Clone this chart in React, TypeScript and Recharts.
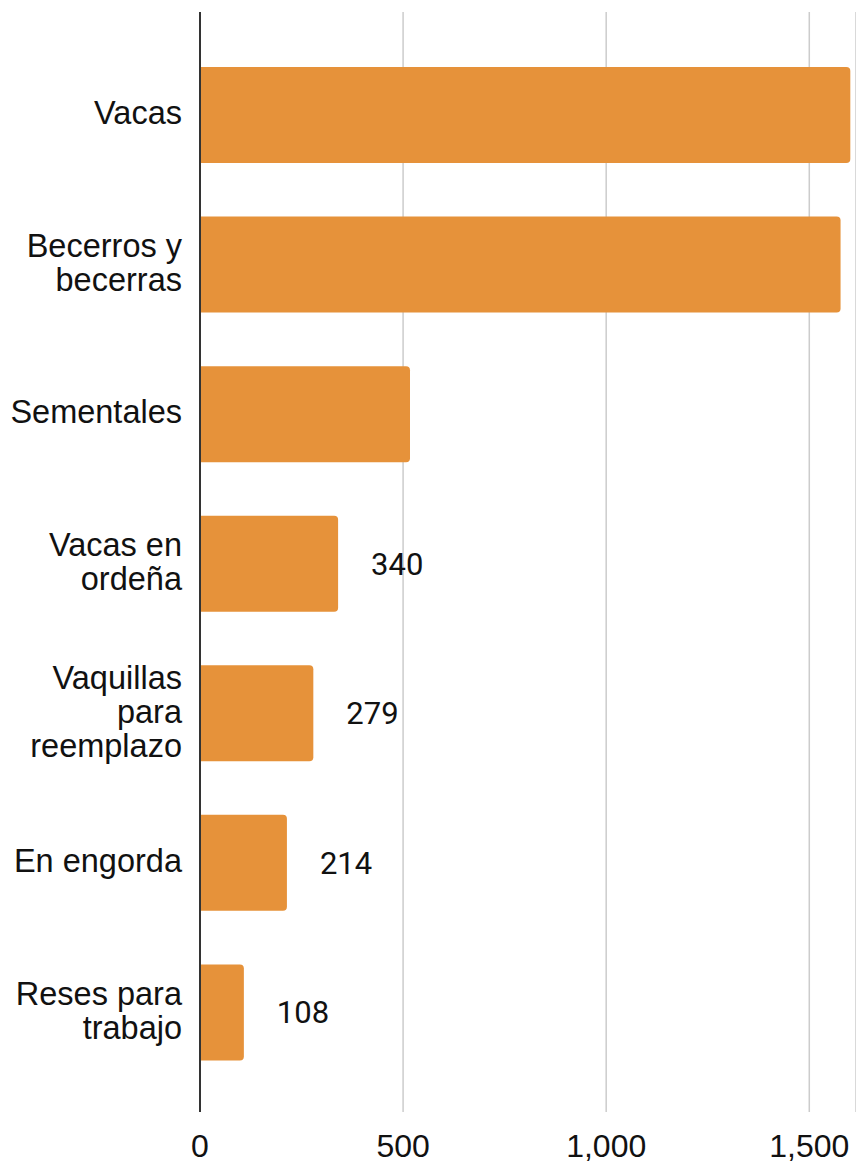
import React from "react"
import { BarChart, Bar, XAxis, YAxis, CartesianGrid, LabelList } from "recharts"

const categories = [
  "Vacas",
  "Becerros y\nbecerras",
  "Sementales",
  "Vacas en\nordeña",
  "Vaquillas\npara\nreemplazo",
  "En engorda",
  "Reses para\ntrabajo",
]
const values = [1601, 1577, 517, 340, 279, 214, 108]
const xTicks = [0, 500, 1000, 1500]
const labelBelow = 400 // only small bars carry a value label

const data = categories.map((name, i) => ({ name, value: values[i] }))

const BAR = "#E6923A"

function CategoryTick(props: any) {
  const { x, y, payload } = props
  const lines = String(payload.value).split("\n")
  const lh = 34
  const start = y - ((lines.length - 1) * lh) / 2 - 2
  return (
    <text
      x={x}
      y={start}
      textAnchor="end"
      fontFamily="'Liberation Sans', Arial, sans-serif"
      fontSize={32.5}
      fill="#111"
    >
      {lines.map((l, i) => (
        <tspan key={i} x={x} y={start + i * lh} dy={11.5}>
          {l}
        </tspan>
      ))}
    </text>
  )
}

function ValueTick(props: any) {
  const { x, y, payload } = props
  return (
    <text
      x={x}
      y={y + 45}
      textAnchor="middle"
      fontFamily="'Liberation Sans', Arial, sans-serif"
      fontSize={32}
      fill="#111"
    >
      {Number(payload.value).toLocaleString("en-US")}
    </text>
  )
}

function BarValue(props: any) {
  const { x, y, width, height, value } = props
  if (value >= labelBelow) return null
  return (
    <text
      x={x + width + 33}
      y={y + height / 2 + 11}
      textAnchor="start"
      fontFamily="Roboto, sans-serif"
      fontSize={31}
      fill="#111"
    >
      {value}
    </text>
  )
}

export default function App() {
  return (
    <div style={{ position: "absolute", left: 0, top: 0, background: "#fff" }}>
      <BarChart
        width={856}
        height={1163}
        data={data}
        layout="vertical"
        margin={{ top: 12, right: 0, left: 0, bottom: 0 }}
      >
        <CartesianGrid horizontal={false} stroke="#cccccc" strokeWidth={1.5} />
        <XAxis
          type="number"
          domain={[0, 1615]}
          ticks={xTicks}
          axisLine={false}
          tickLine={false}
          tickSize={0}
          tickMargin={0}
          height={51}
          interval={0}
          tick={<ValueTick />}
        />
        <YAxis
          type="category"
          dataKey="name"
          width={200}
          padding={{ top: 28, bottom: 25 }}
          axisLine={{ stroke: "#333", strokeWidth: 2 }}
          tickLine={false}
          tickSize={0}
          tickMargin={18}
          interval={0}
          tick={<CategoryTick />}
        />
        <Bar
          dataKey="value"
          fill={BAR}
          barSize={96}
          radius={[0, 4, 4, 0]}
          isAnimationActive={false}
        >
          <LabelList dataKey="value" content={<BarValue />} />
        </Bar>
      </BarChart>
    </div>
  )
}
